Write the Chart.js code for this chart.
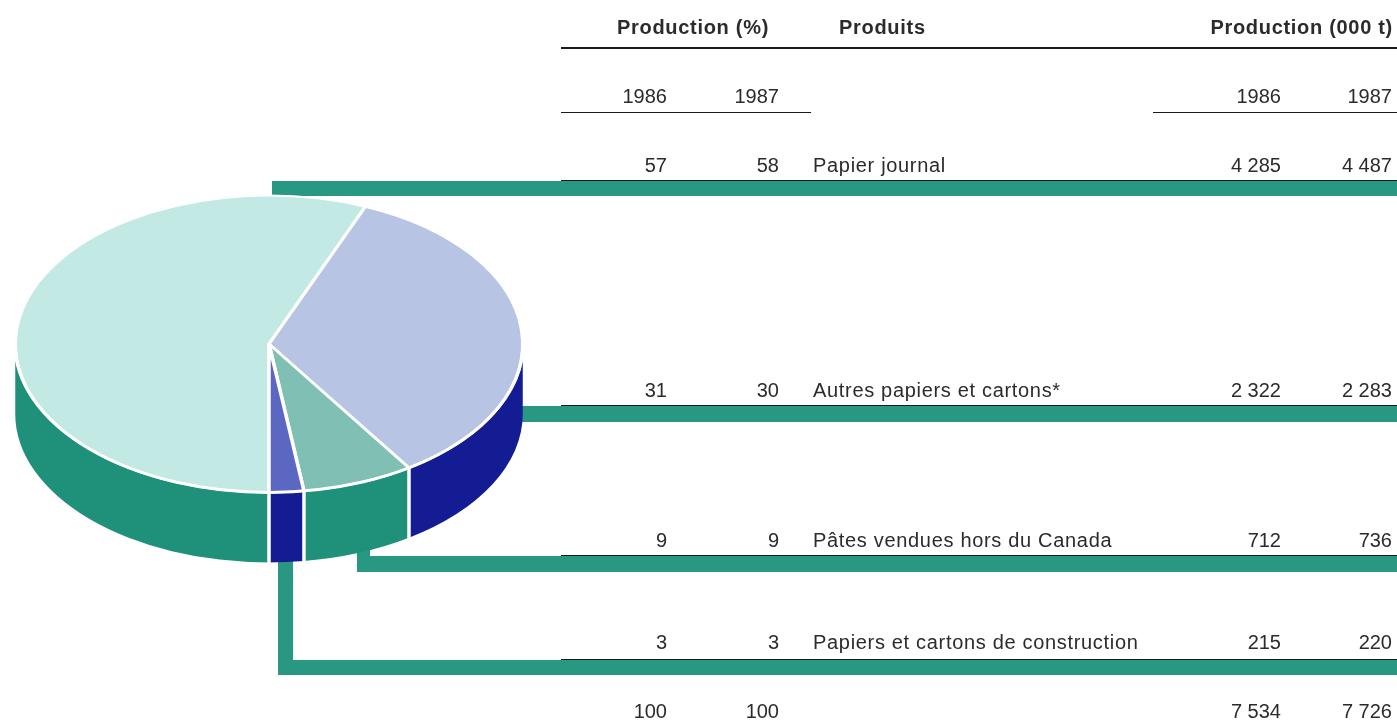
<!DOCTYPE html>
<html lang="fr">
<head>
<meta charset="utf-8">
<title>Production</title>
<style>
  html, body { margin: 0; padding: 0; background: #fff; }
  #page { position: relative; width: 1397px; height: 723px; overflow: hidden; font-family: "Liberation Sans", Arial, sans-serif; color: #2b2b2b; }
  #pie { position: absolute; left: 0; top: 0; z-index: 2; }
  .bar { position: absolute; background: #289883; z-index: 1; }
  .rule { position: absolute; background: #1a1a1a; z-index: 3; }
  .txt { position: absolute; font-size: 20px; line-height: 24px; white-space: nowrap; z-index: 3; }
  .r { text-align: right; transform: translateX(-100%); }
  .b { font-weight: bold; letter-spacing: 0.7px; }
  .n { letter-spacing: 0.68px; }
</style>
</head>
<body>
<div id="page">
  <canvas id="pie" width="1397" height="723"></canvas>
</div>
<script src="https://cdn.jsdelivr.net/npm/chart.js@4"></script>
<script>
const products = ["Papier journal", "Autres papiers et cartons*", "Pâtes vendues hors du Canada", "Papiers et cartons de construction"];
const years = ["1986", "1987"];
const pct1986 = ["57", "31", "9", "3"];
const pct1987 = ["58", "30", "9", "3"];
const tons1986 = ["4 285", "2 322", "712", "215"];
const tons1987 = ["4 487", "2 283", "736", "220"];
const totals = ["100", "100", "7 534", "7 726"];

// slice sizes as measured on the drawing, they do not quite follow the printed %
const sliceShares = [56.2, 34.5, 7.1, 2.2];
const topColors = ["#c3e9e4", "#b8c4e4", "#80c0b4", "#5a68c2"];
const sideColors = ["#1f917b", "#141c94", "#1f917b", "#141c94"];

const page = document.getElementById("page");

function addText(str, x, y, cls) {
  const el = document.createElement("div");
  el.className = "txt " + (cls || "");
  el.textContent = str;
  el.style.left = x + "px";
  el.style.top = (y - 12) + "px";
  page.appendChild(el);
}

function addBox(cls, x, y, w, h) {
  const el = document.createElement("div");
  el.className = cls;
  el.style.cssText = "left:" + x + "px;top:" + y + "px;width:" + w + "px;height:" + h + "px";
  page.appendChild(el);
}

// table heads
addText("Production (%)", 769, 27, "r b");
addText("Produits", 839, 27, "b");
addText("Production (000 t)", 1393, 27, "r b");
addText(years[0], 667, 96, "r");
addText(years[1], 779, 96, "r");
addText(years[0], 1281, 96, "r");
addText(years[1], 1392, 96, "r");
addBox("rule", 561, 47, 836, 2);
addBox("rule", 561, 112, 250, 1);
addBox("rule", 1153, 112, 244, 1);

// rows
const rowY = [165, 390, 540, 642];
products.forEach(function (name, i) {
  addText(pct1986[i], 667, rowY[i], "r");
  addText(pct1987[i], 779, rowY[i], "r");
  addText(name, 813, rowY[i], "n");
  addText(tons1986[i], 1281, rowY[i], "r");
  addText(tons1987[i], 1392, rowY[i], "r");
});
addText(totals[0], 667, 711, "r");
addText(totals[1], 779, 711, "r");
addText(totals[2], 1281, 711, "r");
addText(totals[3], 1392, 711, "r");

// leader bars from the pie to the rows
addBox("bar", 272, 181, 1125, 15);
addBox("bar", 500, 406, 897, 16);
addBox("bar", 357, 556, 1040, 16);
addBox("bar", 357, 540, 13, 20);
addBox("bar", 278, 540, 15, 135);
addBox("bar", 278, 660, 1119, 15);
addBox("rule", 561, 180, 836, 1);
addBox("rule", 561, 405, 836, 1);
addBox("rule", 561, 555, 836, 1);
addBox("rule", 561, 659, 836, 1);

const squash = 0.585;
const pieCenterY = 344;
const depth = 70;

// flatten the pie and give it a rim
const tiltPlugin = {
  id: "tilt",
  beforeDatasetsDraw(chart) {
    const ctx = chart.ctx;
    const arcs = chart.getDatasetMeta(0).data;
    arcs.forEach(function (arc, i) {
      const p = arc.getProps(["x", "startAngle", "endAngle", "outerRadius"], true);
      const rx = p.outerRadius;
      const ry = rx * squash;
      [0, 2 * Math.PI].forEach(function (turn) {
        const a0 = Math.max(p.startAngle, turn);
        const a1 = Math.min(p.endAngle, turn + Math.PI);
        if (a1 <= a0) return;
        ctx.beginPath();
        ctx.ellipse(p.x, pieCenterY, rx, ry, 0, a0, a1);
        ctx.ellipse(p.x, pieCenterY + depth, rx, ry, 0, a1, a0, true);
        ctx.closePath();
        ctx.fillStyle = sideColors[i];
        ctx.fill();
      });
    });
    // white seams on the rim
    arcs.forEach(function (arc) {
      const p = arc.getProps(["x", "endAngle", "outerRadius"], true);
      const a = p.endAngle % (2 * Math.PI);
      if (a <= 0 || a > Math.PI) return;
      const sx = p.x + Math.cos(a) * p.outerRadius;
      const sy = pieCenterY + Math.sin(a) * p.outerRadius * squash;
      ctx.beginPath();
      ctx.moveTo(sx, sy);
      ctx.lineTo(sx, sy + depth + 1);
      ctx.strokeStyle = "#fff";
      ctx.lineWidth = 3.5;
      ctx.stroke();
    });
    const first = arcs[0].getProps(["x", "y"], true);
    ctx.save();
    ctx.translate(first.x, pieCenterY);
    ctx.scale(1, squash);
    ctx.translate(-first.x, -first.y);
  },
  afterDatasetsDraw(chart) {
    const ctx = chart.ctx;
    ctx.restore();
    // the seam between top and rim is as wide as the slice seams
    const p = chart.getDatasetMeta(0).data[0].getProps(["x", "outerRadius"], true);
    ctx.beginPath();
    ctx.ellipse(p.x, pieCenterY, p.outerRadius, p.outerRadius * squash, 0, 0, Math.PI);
    ctx.strokeStyle = "#fff";
    ctx.lineWidth = 3;
    ctx.stroke();
  }
};

new Chart(document.getElementById("pie").getContext("2d"), {
  type: "pie",
  data: {
    labels: products,
    datasets: [
      {
        data: sliceShares,
        backgroundColor: topColors,
        borderColor: "#fff",
        borderWidth: 3.5,
        borderJoinStyle: "round",
        clip: false,
      },
    ],
  },
  options: {
    responsive: false,
    animation: false,
    rotation: 180,
    layout: { padding: { left: 13.5, right: 872.5, top: 100, bottom: 112 } },
    plugins: { legend: { display: false }, tooltip: { enabled: false } },
  },
  plugins: [tiltPlugin],
});
</script>
</body>
</html>
